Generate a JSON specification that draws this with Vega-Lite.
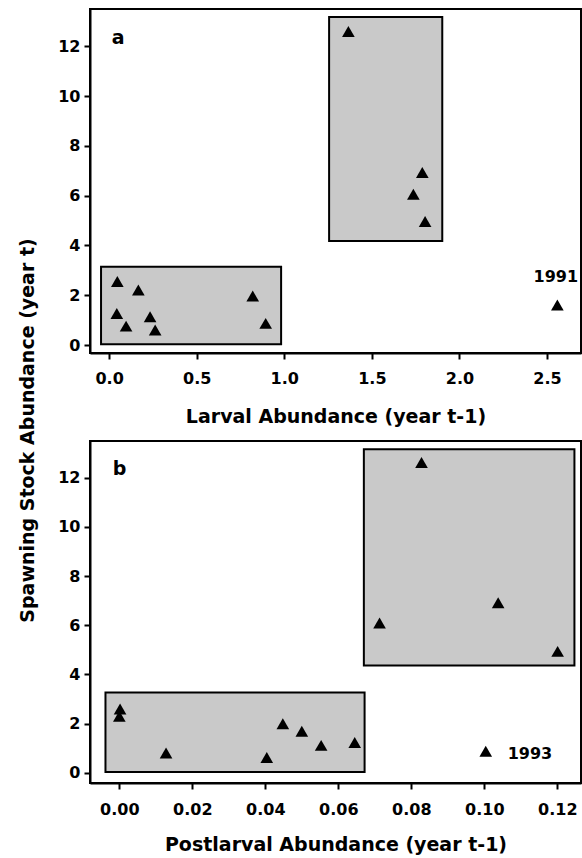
{
  "$schema": "https://vega.github.io/schema/vega-lite/v6.json",
  "padding": {"left": 17, "top": 8, "right": 0, "bottom": 0},
  "background": "white",
  "config": {
    "view": {"stroke": "black", "strokeWidth": 2},
    "axis": {
      "grid": false,
      "domainColor": "black", "domainWidth": 2,
      "tickColor": "black", "tickWidth": 2, "tickSize": 6,
      "labelFont": "DejaVu Sans", "labelFontWeight": "bold", "labelFontSize": 16, "labelColor": "black",
      "titleFont": "DejaVu Sans", "titleFontWeight": "bold", "titleFontSize": 19, "titleColor": "black",
      "labelFlush": false
    },
    "text": {"font": "DejaVu Sans", "fontWeight": "bold", "color": "black"}
  },
  "datasets": {
    "larval": [
      {"kind": "box", "x": -0.046, "y": 0.03, "x2": 0.982, "y2": 3.15},
      {"kind": "box", "x": 1.256, "y": 4.18, "x2": 1.902, "y2": 13.18},
      {"kind": "point", "x": 0.047, "y": 2.55},
      {"kind": "point", "x": 0.167, "y": 2.21},
      {"kind": "point", "x": 0.044, "y": 1.27},
      {"kind": "point", "x": 0.097, "y": 0.76},
      {"kind": "point", "x": 0.234, "y": 1.14},
      {"kind": "point", "x": 0.263, "y": 0.60},
      {"kind": "point", "x": 0.82, "y": 1.97},
      {"kind": "point", "x": 0.894, "y": 0.87},
      {"kind": "point", "x": 1.366, "y": 12.6},
      {"kind": "point", "x": 1.788, "y": 6.93},
      {"kind": "point", "x": 1.737, "y": 6.06},
      {"kind": "point", "x": 1.804, "y": 4.96},
      {"kind": "point", "x": 2.559, "y": 1.61},
      {"kind": "label", "x": 2.55, "y": 2.75, "text": "1991"},
      {"kind": "panel", "x": 0.015, "y": 12.34, "text": "a"}
    ],
    "postlarval": [
      {"kind": "box", "x": -0.0038, "y": 0.04, "x2": 0.0672, "y2": 3.27},
      {"kind": "box", "x": 0.067, "y": 4.37, "x2": 0.1247, "y2": 13.15},
      {"kind": "point", "x": 0.0002, "y": 2.6},
      {"kind": "point", "x": 0.0, "y": 2.3},
      {"kind": "point", "x": 0.0128, "y": 0.81},
      {"kind": "point", "x": 0.0404, "y": 0.63},
      {"kind": "point", "x": 0.0448, "y": 2.0},
      {"kind": "point", "x": 0.050, "y": 1.69},
      {"kind": "point", "x": 0.0553, "y": 1.12},
      {"kind": "point", "x": 0.0645, "y": 1.24},
      {"kind": "point", "x": 0.0828, "y": 12.62},
      {"kind": "point", "x": 0.0713, "y": 6.09},
      {"kind": "point", "x": 0.1038, "y": 6.92},
      {"kind": "point", "x": 0.1201, "y": 4.94},
      {"kind": "point", "x": 0.1004, "y": 0.88},
      {"kind": "label2", "x": 0.1064, "y": 0.78, "text": "1993"},
      {"kind": "panel", "x": -0.0018, "y": 12.34, "text": "b"}
    ]
  },
  "bounds": "flush",
  "spacing": 88,
  "vconcat": [
    {
      "width": 491, "height": 344,
      "data": {"name": "larval"},
      "encoding": {
        "x": {"field": "x", "type": "quantitative",
              "scale": {"domain": [-0.109, 2.694], "nice": false, "zero": false},
              "axis": {"title": "Larval Abundance (year t-1)", "values": [0, 0.5, 1, 1.5, 2, 2.5], "format": ".1f", "labelPadding": 11, "titlePadding": 21}},
        "y": {"field": "y", "type": "quantitative",
              "scale": {"domain": [-0.32, 13.5], "nice": false, "zero": false},
              "axis": {"title": null, "values": [0, 2, 4, 6, 8, 10, 12], "labelPadding": 4}}
      },
      "layer": [
        {"transform": [{"filter": "datum.kind === 'box'"}],
         "mark": {"type": "rect", "fill": "#c9c9c9", "stroke": "black", "strokeWidth": 2},
         "encoding": {"x2": {"field": "x2"}, "y2": {"field": "y2"}}},
        {"transform": [{"filter": "datum.kind === 'point'"}],
         "mark": {"type": "point", "shape": "triangle-up", "filled": true, "color": "black", "size": 160, "opacity": 1}},
        {"transform": [{"filter": "datum.kind === 'label'"}],
         "mark": {"type": "text", "fontSize": 16, "align": "center", "baseline": "middle"},
         "encoding": {"text": {"field": "text"}}},
        {"transform": [{"filter": "datum.kind === 'panel'"}],
         "mark": {"type": "text", "fontSize": 19, "align": "left", "baseline": "middle"},
         "encoding": {"text": {"field": "text"}}}
      ]
    },
    {
      "width": 491, "height": 342,
      "data": {"name": "postlarval"},
      "encoding": {
        "x": {"field": "x", "type": "quantitative",
              "scale": {"domain": [-0.00804, 0.1265], "nice": false, "zero": false},
              "axis": {"title": "Postlarval Abundance (year t-1)", "values": [0, 0.02, 0.04, 0.06, 0.08, 0.1, 0.12], "format": ".2f", "labelPadding": 12, "titlePadding": 18}},
        "y": {"field": "y", "type": "quantitative",
              "scale": {"domain": [-0.41, 13.49], "nice": false, "zero": false},
              "axis": {"title": "Spawning Stock Abundance (year t)", "values": [0, 2, 4, 6, 8, 10, 12], "labelPadding": 4,
                       "titleX": -63, "titleY": -11, "titleAngle": -90, "titleAlign": "center", "titleBaseline": "middle"}}
      },
      "layer": [
        {"transform": [{"filter": "datum.kind === 'box'"}],
         "mark": {"type": "rect", "fill": "#c9c9c9", "stroke": "black", "strokeWidth": 2},
         "encoding": {"x2": {"field": "x2"}, "y2": {"field": "y2"}}},
        {"transform": [{"filter": "datum.kind === 'point'"}],
         "mark": {"type": "point", "shape": "triangle-up", "filled": true, "color": "black", "size": 160, "opacity": 1}},
        {"transform": [{"filter": "datum.kind === 'label2'"}],
         "mark": {"type": "text", "fontSize": 16, "align": "left", "baseline": "middle"},
         "encoding": {"text": {"field": "text"}}},
        {"transform": [{"filter": "datum.kind === 'panel'"}],
         "mark": {"type": "text", "fontSize": 19, "align": "left", "baseline": "middle"},
         "encoding": {"text": {"field": "text"}}}
      ]
    }
  ]
}
